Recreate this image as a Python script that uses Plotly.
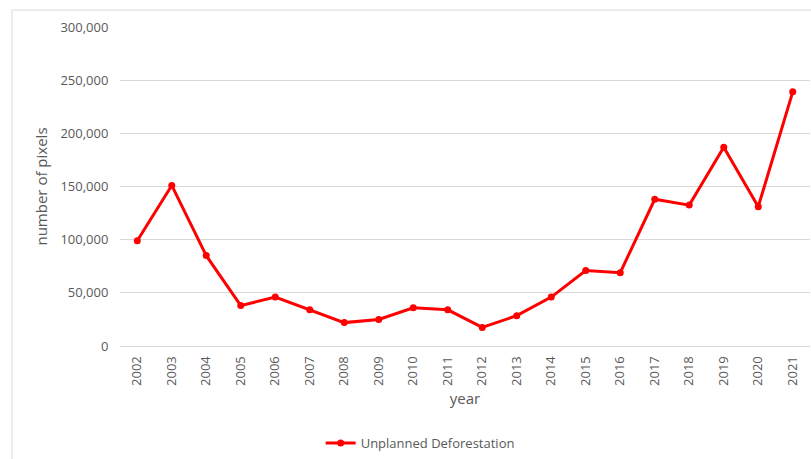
import plotly.graph_objects as go

# Unplanned deforestation per year, counted in pixels
years = ["2002", "2003", "2004", "2005", "2006", "2007", "2008", "2009", "2010", "2011",
         "2012", "2013", "2014", "2015", "2016", "2017", "2018", "2019", "2020", "2021"]
pixels = [99000, 151000, 85000, 38000, 46000, 34000, 22000, 25000, 36000, 34000,
          17500, 28500, 46000, 71000, 69000, 138000, 132500, 187000, 131000, 239000]

y_ticks = [0, 50000, 100000, 150000, 200000, 250000, 300000]

W, H = 811, 459
L, R, T, B = 120, 1, 27, 113
pw, ph = W - L - R, H - T - B

def px_x(p):
    return (p - L) / pw

def px_y(p):
    return (H - B - p) / ph

grey = "#595959"
font = "Open Sans"

fig = go.Figure()
fig.add_trace(go.Scatter(
    x=years, y=pixels, mode="lines+markers", name="Unplanned Deforestation",
    line=dict(color="#ff0000", width=3),
    marker=dict(color="#ff0000", size=7),
))

fig.update_layout(
    width=W, height=H,
    margin=dict(l=L, r=R, t=T, b=B),
    paper_bgcolor="white", plot_bgcolor="white",
    font=dict(family=font, color=grey, size=13),
    showlegend=True,
    legend=dict(orientation="h", x=0.435, xanchor="center", y=px_y(443), yanchor="middle",
                font=dict(size=13, color=grey), itemwidth=30),
    xaxis=dict(
        type="category", range=[-0.5, len(years) - 0.5],
        showgrid=False, showline=False, zeroline=False,
        tickangle=-90, tickfont=dict(size=13, color=grey),
        title=dict(text="year", font=dict(size=15, color=grey), standoff=8),
        ticks="outside", ticklen=4, tickcolor="rgba(0,0,0,0)",
    ),
    yaxis=dict(
        range=[0, 300000], tickvals=y_ticks, tickformat=",",
        showgrid=True, gridcolor="#d9d9d9", gridwidth=1,
        zeroline=True, zerolinecolor="#d9d9d9", zerolinewidth=1,
        showline=False, tickfont=dict(size=13, color=grey),
        ticks="outside", ticklen=8, tickcolor="rgba(0,0,0,0)",
        title=dict(text="number of pixels", font=dict(size=15, color=grey), standoff=9),
    ),
    shapes=[dict(
        type="rect", xref="paper", yref="paper",
        x0=px_x(12), x1=px_x(900), y0=px_y(600), y1=px_y(10),
        line=dict(color="#d9d9d9", width=1), fillcolor="rgba(0,0,0,0)", layer="below",
    )],
)

fig.write_html("out.html")
